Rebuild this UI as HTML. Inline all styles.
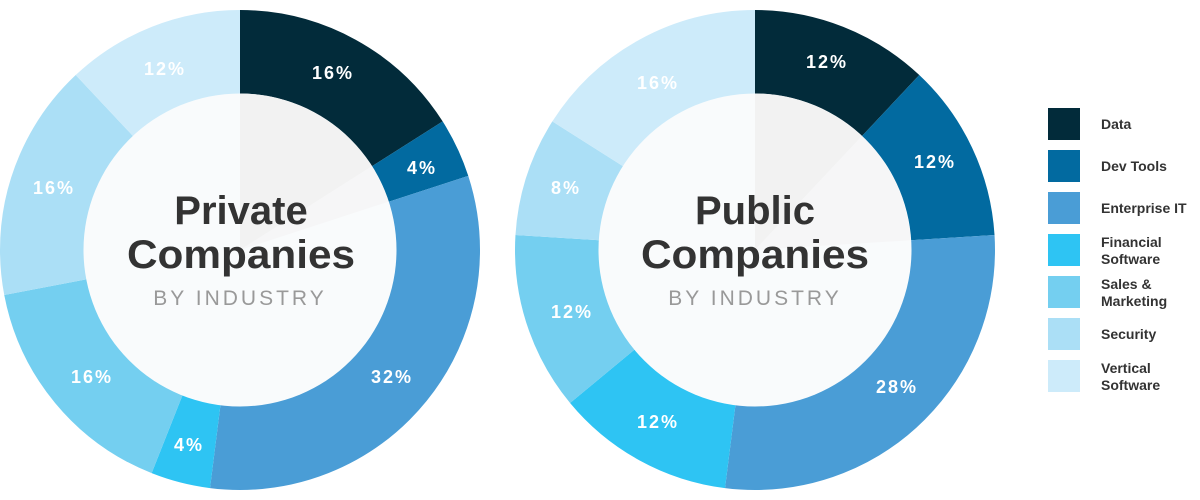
<!DOCTYPE html>
<html><head><meta charset="utf-8"><style>
html,body{margin:0;padding:0;background:#fff;}
svg{display:block;}
text{font-family:"Liberation Sans",sans-serif;}
.pct{fill:#fff;font-weight:bold;font-size:18px;letter-spacing:2px;text-anchor:middle;}
.t1{fill:#333;font-weight:bold;font-size:40px;text-anchor:middle;}
.t2{fill:#999;font-size:21px;letter-spacing:3px;text-anchor:middle;}
.lg{fill:#333;font-size:14px;font-weight:bold;}
</style></head><body>
<svg width="1200" height="500" viewBox="0 0 1200 500">
<g fill="none" stroke-width="84">
 <g transform="rotate(-90 240 250)">
  <circle cx="240" cy="250" r="198" pathLength="100" stroke="#022b3a" stroke-dasharray="16 84" stroke-dashoffset="0"/>
  <circle cx="240" cy="250" r="198" pathLength="100" stroke="#026aa0" stroke-dasharray="4 96" stroke-dashoffset="-16"/>
  <circle cx="240" cy="250" r="198" pathLength="100" stroke="#4a9dd6" stroke-dasharray="32 68" stroke-dashoffset="-20"/>
  <circle cx="240" cy="250" r="198" pathLength="100" stroke="#2ec4f3" stroke-dasharray="4 96" stroke-dashoffset="-52"/>
  <circle cx="240" cy="250" r="198" pathLength="100" stroke="#74cff0" stroke-dasharray="16 84" stroke-dashoffset="-56"/>
  <circle cx="240" cy="250" r="198" pathLength="100" stroke="#abdff6" stroke-dasharray="16 84" stroke-dashoffset="-72"/>
  <circle cx="240" cy="250" r="198" pathLength="100" stroke="#cdebfa" stroke-dasharray="12 88" stroke-dashoffset="-88"/>
 </g>
 <g transform="rotate(-90 755 250)">
  <circle cx="755" cy="250" r="198" pathLength="100" stroke="#022b3a" stroke-dasharray="12 88" stroke-dashoffset="0"/>
  <circle cx="755" cy="250" r="198" pathLength="100" stroke="#026aa0" stroke-dasharray="12 88" stroke-dashoffset="-12"/>
  <circle cx="755" cy="250" r="198" pathLength="100" stroke="#4a9dd6" stroke-dasharray="28 72" stroke-dashoffset="-24"/>
  <circle cx="755" cy="250" r="198" pathLength="100" stroke="#2ec4f3" stroke-dasharray="12 88" stroke-dashoffset="-52"/>
  <circle cx="755" cy="250" r="198" pathLength="100" stroke="#74cff0" stroke-dasharray="12 88" stroke-dashoffset="-64"/>
  <circle cx="755" cy="250" r="198" pathLength="100" stroke="#abdff6" stroke-dasharray="8 92" stroke-dashoffset="-76"/>
  <circle cx="755" cy="250" r="198" pathLength="100" stroke="#cdebfa" stroke-dasharray="16 84" stroke-dashoffset="-84"/>
 </g>
</g>
<circle cx="240" cy="250" r="156.5" fill="#f9fbfc"/>
<path d="M240 250 L240 93.5 A156.5 156.5 0 0 1 371.7 166.4 Z" fill="#f2f2f2"/>
<path d="M240 250 L371.7 166.4 A156.5 156.5 0 0 1 388.7 201.6 Z" fill="#f6f6f7"/>
<circle cx="755" cy="250" r="156.5" fill="#f9fbfc"/>
<path d="M755 250 L755 93.5 A156.5 156.5 0 0 1 861.8 136.3 Z" fill="#f2f2f2"/>
<path d="M755 250 L861.8 136.3 A156.5 156.5 0 0 1 910.7 240.2 Z" fill="#f6f6f7"/>

<text class="pct" x="333" y="79">16%</text>
<text class="pct" x="422" y="174">4%</text>
<text class="pct" x="392" y="383">32%</text>
<text class="pct" x="189" y="451">4%</text>
<text class="pct" x="92" y="383">16%</text>
<text class="pct" x="54" y="194">16%</text>
<text class="pct" x="165" y="75">12%</text>

<text class="pct" x="827" y="68">12%</text>
<text class="pct" x="935" y="168">12%</text>
<text class="pct" x="897" y="393">28%</text>
<text class="pct" x="658" y="428">12%</text>
<text class="pct" x="572" y="318">12%</text>
<text class="pct" x="566" y="194">8%</text>
<text class="pct" x="658" y="89">16%</text>

<text class="t1" x="241" y="224">Private</text>
<text class="t1" x="241" y="268" textLength="228" lengthAdjust="spacingAndGlyphs">Companies</text>
<text class="t2" x="240" y="305">BY INDUSTRY</text>
<text class="t1" x="755" y="224">Public</text>
<text class="t1" x="755" y="268" textLength="228" lengthAdjust="spacingAndGlyphs">Companies</text>
<text class="t2" x="755" y="305">BY INDUSTRY</text>

<rect x="1048" y="108" width="32" height="32" fill="#022b3a"/>
<rect x="1048" y="150" width="32" height="32" fill="#026aa0"/>
<rect x="1048" y="192" width="32" height="32" fill="#4a9dd6"/>
<rect x="1048" y="234" width="32" height="32" fill="#2ec4f3"/>
<rect x="1048" y="276" width="32" height="32" fill="#74cff0"/>
<rect x="1048" y="318" width="32" height="32" fill="#abdff6"/>
<rect x="1048" y="360" width="32" height="32" fill="#cdebfa"/>
<text class="lg" x="1101" y="129">Data</text>
<text class="lg" x="1101" y="171">Dev Tools</text>
<text class="lg" x="1101" y="213">Enterprise IT</text>
<text class="lg" x="1101" y="247">Financial</text>
<text class="lg" x="1101" y="264">Software</text>
<text class="lg" x="1101" y="289">Sales &amp;</text>
<text class="lg" x="1101" y="306">Marketing</text>
<text class="lg" x="1101" y="339">Security</text>
<text class="lg" x="1101" y="373">Vertical</text>
<text class="lg" x="1101" y="390">Software</text>
</svg>
</body></html>
